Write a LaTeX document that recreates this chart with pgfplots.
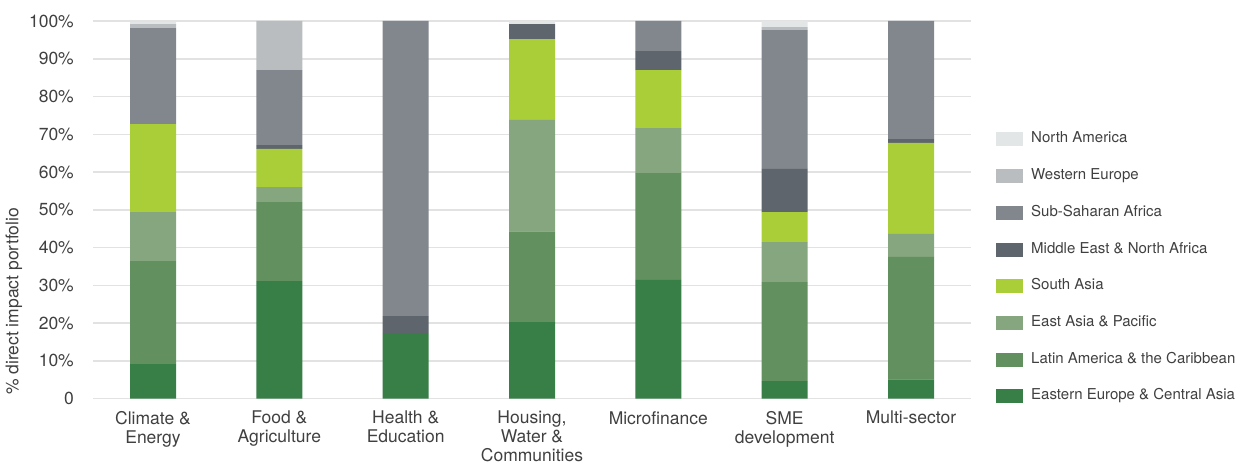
\documentclass[border=0pt]{standalone}
\usepackage{pgfplots}
\pgfplotsset{compat=1.18}
\usepackage{pgfplotstable}
\usepackage{fontspec}
\setmainfont{TeX Gyre Heros}

\definecolor{ceeca}{HTML}{377E47}
\definecolor{clac}{HTML}{62905F}
\definecolor{ceap}{HTML}{86A67F}
\definecolor{csa}{HTML}{A9CE38}
\definecolor{cmena}{HTML}{5E656C}
\definecolor{cssa}{HTML}{81878D}
\definecolor{cwe}{HTML}{B9BDBF}
\definecolor{cna}{HTML}{E3E6E7}
\definecolor{gridgray}{HTML}{E2E2E2}
\definecolor{txt}{HTML}{404040}

% share of direct impact portfolio per region, in %
\pgfplotstableread{
x eeca lac  eap  sa   mena ssa  we   na
0 9.1  27.3 13.2 23.1 0    25.4 1.1  0.6
1 31.1 20.9 4.0  10.1 1.0  19.9 13.0 0
2 17.1 0    0    0    4.7  78.2 0    0
3 20.2 24.1 29.5 21.4 4.0  0    0    0.8
4 31.4 28.3 11.9 15.4 5.0  8.0  0    0
5 4.6  26.2 10.6 8.0  11.4 36.8 0.8  1.6
6 5.1  32.4 6.1  24.1 1.0  31.3 0    0
}\regions

\begin{document}
\begin{tikzpicture}
\begin{axis}[
  scale only axis, width=878pt, height=377.5pt,
  ybar stacked, bar width=46pt,
  xmin=-0.475, xmax=6.475, ymin=0, ymax=100,
  axis line style={draw=none},
  major tick length=0pt,
  ymajorgrids, grid style={draw=gridgray, line width=1.5pt},
  xtick={0,...,6},
  xticklabels={Climate \&\\Energy, Food \&\\Agriculture, Health \&\\Education,
    {Housing,\\Water \&\\Communities}, Microfinance, SME\\development, Multi-sector},
  xticklabel style={align=center, anchor=north, inner sep=0pt, yshift=-12.5pt,
    font=\fontsize{17.5}{19}\selectfont},
  ytick={0,10,...,100},
  yticklabels={0,10\%,20\%,30\%,40\%,50\%,60\%,70\%,80\%,90\%,100\%},
  yticklabel style={anchor=east, inner sep=0pt, xshift=-19pt,
    font=\fontsize{17.5}{20}\selectfont},
  tick label style={text=txt},
  ylabel={\% direct impact portfolio},
  ylabel style={at={(axis description cs:-0.09,0.257)}, anchor=center,
    font=\fontsize{17.5}{20}\selectfont, text=txt},
  legend style={at={(rel axis cs:1,0)}, anchor=south west, xshift=25pt, yshift=-5pt,
    draw=none, fill=none, inner sep=0pt, row sep=22.7pt, column sep=8pt,
    font=\fontsize{15}{18}\selectfont, text=txt,
    nodes={inner sep=0pt, text height=10.5pt, text depth=3.5pt}},
  legend cell align=left, reverse legend,
  legend image code/.code={\fill[#1] (0pt,-7pt) rectangle (27pt,7pt);},
  every axis plot/.append style={draw=none},
]
\addplot[fill=ceeca] table[x=x,y=eeca] {\regions};
\addplot[fill=clac] table[x=x,y=lac] {\regions};
\addplot[fill=ceap] table[x=x,y=eap] {\regions};
\addplot[fill=csa] table[x=x,y=sa] {\regions};
\addplot[fill=cmena] table[x=x,y=mena] {\regions};
\addplot[fill=cssa] table[x=x,y=ssa] {\regions};
\addplot[fill=cwe] table[x=x,y=we] {\regions};
\addplot[fill=cna] table[x=x,y=na] {\regions};
\legend{Eastern Europe \& Central Asia, Latin America \& the Caribbean, East Asia \& Pacific,
  South Asia, Middle East \& North Africa, Sub-Saharan Africa, Western Europe, North America}
\end{axis}
\path ([shift={(-93pt,-65.5pt)}]current axis.south west)
  rectangle ([shift={(276pt,21pt)}]current axis.north east);
\end{tikzpicture}
\end{document}
